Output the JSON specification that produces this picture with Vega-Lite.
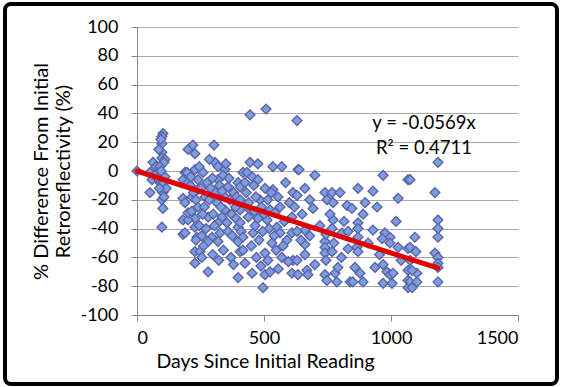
{
  "$schema": "https://vega.github.io/schema/vega-lite/v6.json",
  "width": 381,
  "height": 288,
  "autosize": {"type": "none"},
  "padding": {"left": 137, "top": 27, "right": 43, "bottom": 72},
  "background": "white",
  "config": {
    "font": "Lato",
    "view": {"stroke": null},
    "axis": {
      "labelFont": "Lato",
      "titleFont": "Lato",
      "labelFontSize": 18,
      "titleFontSize": 19.5,
      "titleFontWeight": "normal",
      "labelColor": "#000000",
      "titleColor": "#000000",
      "domainColor": "#868686",
      "tickColor": "#868686",
      "tickSize": 6,
      "gridColor": "#a8a8a8",
      "labelOverlap": false,
      "labelExpr": "'' + datum.value"
    }
  },
  "datasets": {
    "readings": [
      {"d": 0, "v": 0}, {"d": 51, "v": -1}, {"d": 59, "v": -6}, {"d": 51, "v": -15}, {"d": 63, "v": 6},
      {"d": 102, "v": 26}, {"d": 98, "v": 24}, {"d": 98, "v": 19}, {"d": 98, "v": 13}, {"d": 98, "v": 9},
      {"d": 110, "v": 8}, {"d": 106, "v": 6}, {"d": 75, "v": 3}, {"d": 90, "v": 3}, {"d": 78, "v": -1},
      {"d": 90, "v": -1}, {"d": 102, "v": -3}, {"d": 90, "v": -8}, {"d": 102, "v": -9}, {"d": 102, "v": -15},
      {"d": 98, "v": -20}, {"d": 102, "v": -26}, {"d": 98, "v": -39}, {"d": 94, "v": 22}, {"d": 86, "v": 15},
      {"d": 110, "v": -4}, {"d": 115, "v": -12}, {"d": 70, "v": -3}, {"d": 82, "v": -5}, {"d": 95, "v": 0},
      {"d": 106, "v": -18}, {"d": 88, "v": -12},
      {"d": 181, "v": -6}, {"d": 189, "v": -1}, {"d": 181, "v": -19}, {"d": 181, "v": -34}, {"d": 181, "v": -44},
      {"d": 201, "v": 15}, {"d": 220, "v": 18}, {"d": 228, "v": 12}, {"d": 303, "v": 18}, {"d": 197, "v": -1},
      {"d": 228, "v": 1}, {"d": 260, "v": -1}, {"d": 307, "v": 6}, {"d": 319, "v": 3}, {"d": 346, "v": 1},
      {"d": 201, "v": -8}, {"d": 240, "v": -6}, {"d": 276, "v": -8}, {"d": 319, "v": -6}, {"d": 339, "v": -3},
      {"d": 398, "v": -8}, {"d": 417, "v": -1}, {"d": 217, "v": -18}, {"d": 240, "v": -25}, {"d": 280, "v": -32},
      {"d": 315, "v": -22}, {"d": 346, "v": -27}, {"d": 228, "v": -33}, {"d": 201, "v": -34}, {"d": 228, "v": -39},
      {"d": 319, "v": -36}, {"d": 354, "v": -36}, {"d": 406, "v": -27}, {"d": 398, "v": -39}, {"d": 236, "v": -46},
      {"d": 295, "v": -46}, {"d": 327, "v": -43}, {"d": 358, "v": -42}, {"d": 280, "v": -49}, {"d": 319, "v": -49},
      {"d": 398, "v": -49}, {"d": 228, "v": -56}, {"d": 248, "v": -56}, {"d": 228, "v": -64}, {"d": 280, "v": -70},
      {"d": 406, "v": -56}, {"d": 398, "v": -74}, {"d": 201, "v": -29}, {"d": 268, "v": -18}, {"d": 346, "v": -18},
      {"d": 240, "v": -13}, {"d": 358, "v": -11}, {"d": 406, "v": -11}, {"d": 189, "v": -22}, {"d": 189, "v": -43},
      {"d": 210, "v": -10}, {"d": 222, "v": -15}, {"d": 232, "v": -20}, {"d": 252, "v": -12}, {"d": 265, "v": -25},
      {"d": 290, "v": -12}, {"d": 300, "v": -30}, {"d": 310, "v": -15}, {"d": 325, "v": -10}, {"d": 335, "v": -32},
      {"d": 365, "v": -20}, {"d": 372, "v": -30}, {"d": 380, "v": -15}, {"d": 388, "v": -25}, {"d": 215, "v": -28},
      {"d": 245, "v": -38}, {"d": 258, "v": -30}, {"d": 272, "v": -40}, {"d": 285, "v": -20}, {"d": 297, "v": -5},
      {"d": 330, "v": -25}, {"d": 362, "v": -5}, {"d": 375, "v": -45}, {"d": 390, "v": -33}, {"d": 212, "v": -4},
      {"d": 255, "v": -45}, {"d": 305, "v": -38}, {"d": 340, "v": -55}, {"d": 370, "v": -60}, {"d": 255, "v": -60},
      {"d": 245, "v": 3}, {"d": 285, "v": 8}, {"d": 335, "v": -14}, {"d": 350, "v": 5}, {"d": 392, "v": -18},
      {"d": 410, "v": -42}, {"d": 380, "v": -65}, {"d": 262, "v": -52}, {"d": 232, "v": -48}, {"d": 298, "v": -58},
      {"d": 322, "v": -62},
      {"d": 445, "v": 39}, {"d": 508, "v": 43}, {"d": 630, "v": 35}, {"d": 445, "v": 6}, {"d": 476, "v": 5},
      {"d": 535, "v": 3}, {"d": 570, "v": 3}, {"d": 433, "v": -1}, {"d": 453, "v": -4}, {"d": 476, "v": -6},
      {"d": 504, "v": -12}, {"d": 535, "v": -13}, {"d": 614, "v": -15}, {"d": 563, "v": -25}, {"d": 445, "v": -27},
      {"d": 476, "v": -33}, {"d": 512, "v": -34}, {"d": 551, "v": -39}, {"d": 406, "v": -36}, {"d": 417, "v": -55},
      {"d": 504, "v": -57}, {"d": 531, "v": -50}, {"d": 570, "v": -60}, {"d": 614, "v": -62}, {"d": 425, "v": -64},
      {"d": 453, "v": -71}, {"d": 504, "v": -72}, {"d": 524, "v": -70}, {"d": 610, "v": -71}, {"d": 496, "v": -81},
      {"d": 610, "v": -43}, {"d": 610, "v": -32}, {"d": 563, "v": -43}, {"d": 457, "v": -43}, {"d": 417, "v": -46},
      {"d": 484, "v": -20}, {"d": 524, "v": -27}, {"d": 543, "v": -29}, {"d": 406, "v": -20}, {"d": 634, "v": 1},
      {"d": 430, "v": -15}, {"d": 440, "v": -22}, {"d": 460, "v": -10}, {"d": 468, "v": -18}, {"d": 490, "v": -25},
      {"d": 500, "v": -30}, {"d": 515, "v": -20}, {"d": 520, "v": -40}, {"d": 540, "v": -45}, {"d": 555, "v": -18},
      {"d": 580, "v": -35}, {"d": 590, "v": -48}, {"d": 600, "v": -22}, {"d": 465, "v": -38}, {"d": 480, "v": -48},
      {"d": 495, "v": -42}, {"d": 528, "v": -15}, {"d": 548, "v": -55}, {"d": 575, "v": -52}, {"d": 620, "v": -25},
      {"d": 450, "v": -52}, {"d": 470, "v": -60}, {"d": 488, "v": -66}, {"d": 515, "v": -62}, {"d": 556, "v": -68},
      {"d": 585, "v": -8}, {"d": 596, "v": -63}, {"d": 438, "v": -32}, {"d": 425, "v": -8}, {"d": 462, "v": -28},
      {"d": 638, "v": 1}, {"d": 661, "v": -12}, {"d": 630, "v": -17}, {"d": 693, "v": -26}, {"d": 740, "v": -15},
      {"d": 768, "v": -15}, {"d": 799, "v": -15}, {"d": 748, "v": -20}, {"d": 772, "v": -22}, {"d": 827, "v": -24},
      {"d": 846, "v": -26}, {"d": 772, "v": -34}, {"d": 768, "v": -40}, {"d": 661, "v": -41}, {"d": 630, "v": -42},
      {"d": 740, "v": -49}, {"d": 740, "v": -53}, {"d": 740, "v": -57}, {"d": 768, "v": -56}, {"d": 661, "v": -51},
      {"d": 661, "v": -58}, {"d": 831, "v": -54}, {"d": 630, "v": -62}, {"d": 669, "v": -69}, {"d": 634, "v": -72},
      {"d": 673, "v": -72}, {"d": 740, "v": -72}, {"d": 780, "v": -71}, {"d": 791, "v": -67}, {"d": 787, "v": -77},
      {"d": 748, "v": -76}, {"d": 839, "v": -77}, {"d": 807, "v": -43}, {"d": 831, "v": -42},
      {"d": 650, "v": -30}, {"d": 680, "v": -45}, {"d": 700, "v": -3}, {"d": 720, "v": -38}, {"d": 744, "v": -62},
      {"d": 760, "v": -30}, {"d": 775, "v": -50}, {"d": 805, "v": -60}, {"d": 815, "v": -35}, {"d": 700, "v": -65},
      {"d": 645, "v": -48}, {"d": 744, "v": -44}, {"d": 680, "v": -20},
      {"d": 969, "v": -3}, {"d": 870, "v": -12}, {"d": 929, "v": -14}, {"d": 1028, "v": -19}, {"d": 1067, "v": -6},
      {"d": 898, "v": -22}, {"d": 945, "v": -25}, {"d": 870, "v": -36}, {"d": 870, "v": -40}, {"d": 929, "v": -41},
      {"d": 870, "v": -46}, {"d": 976, "v": -43}, {"d": 996, "v": -46}, {"d": 965, "v": -47}, {"d": 996, "v": -50},
      {"d": 1028, "v": -53}, {"d": 866, "v": -53}, {"d": 870, "v": -56}, {"d": 1067, "v": -54}, {"d": 858, "v": -67},
      {"d": 878, "v": -71}, {"d": 937, "v": -67}, {"d": 969, "v": -65}, {"d": 984, "v": -70}, {"d": 996, "v": -72},
      {"d": 1008, "v": -71}, {"d": 850, "v": -77}, {"d": 890, "v": -77}, {"d": 969, "v": -78}, {"d": 1004, "v": -78},
      {"d": 1067, "v": -69}, {"d": 1067, "v": -76}, {"d": 1067, "v": -81},
      {"d": 910, "v": -50}, {"d": 955, "v": -58}, {"d": 1040, "v": -62}, {"d": 1020, "v": -35}, {"d": 890, "v": -30},
      {"d": 1185, "v": 6}, {"d": 1075, "v": -6}, {"d": 1173, "v": -15}, {"d": 1185, "v": -34}, {"d": 1185, "v": -40},
      {"d": 1185, "v": -46}, {"d": 1094, "v": -46}, {"d": 1075, "v": -53}, {"d": 1098, "v": -56}, {"d": 1173, "v": -57},
      {"d": 1185, "v": -60}, {"d": 1185, "v": -64}, {"d": 1075, "v": -62}, {"d": 1102, "v": -71}, {"d": 1083, "v": -69},
      {"d": 1075, "v": -77}, {"d": 1102, "v": -77}, {"d": 1083, "v": -81}, {"d": 1185, "v": -77}, {"d": 1185, "v": -67}
    ],
    "trend": [
      {"d": 0, "v": 0},
      {"d": 1185, "v": -67.43}
    ],
    "equation": [
      {"d": 1130, "v": 33, "label": "y = -0.0569x"},
      {"d": 1130, "v": 16, "label": "R² = 0.4711"}
    ]
  },
  "layer": [
    {
      "data": {"name": "readings"},
      "mark": {
        "type": "point",
        "shape": "diamond",
        "filled": true,
        "size": 95,
        "fill": "#7b9de2",
        "stroke": "#5d64a6",
        "strokeWidth": 1.4,
        "opacity": 1
      },
      "encoding": {
        "x": {
          "field": "d",
          "type": "quantitative",
          "scale": {"domain": [0, 1500], "nice": false, "zero": false},
          "axis": {
            "values": [0, 500, 1000, 1500],
            "tickCount": 4,
            "grid": false,
            "title": "Days Since Initial Reading",
            "titleX": 128,
            "titleAlign": "center",
            "labelPadding": 8,
            "titlePadding": 5,
            "labelOverlap": false
          }
        },
        "y": {
          "field": "v",
          "type": "quantitative",
          "scale": {"domain": [-100, 100], "nice": false},
          "axis": {
            "values": [-100, -80, -60, -40, -20, 0, 20, 40, 60, 80, 100],
            "tickCount": 11,
            "grid": true,
            "title": ["% Difference From Initial", "Retroreflectivity (%)"],
            "titleFontSize": 20,
            "titleLineHeight": 22,
            "labelPadding": 13,
            "titlePadding": 6,
            "labelOverlap": false,
            "labelBound": false
          }
        }
      }
    },
    {
      "data": {"name": "trend"},
      "mark": {"type": "line", "color": "#e00000", "strokeWidth": 5, "strokeCap": "round"},
      "encoding": {
        "x": {"field": "d", "type": "quantitative"},
        "y": {"field": "v", "type": "quantitative"}
      }
    },
    {
      "data": {"name": "equation"},
      "mark": {"type": "text", "fontSize": 18.5, "font": "Lato", "color": "#000000", "align": "center", "baseline": "middle"},
      "encoding": {
        "x": {"field": "d", "type": "quantitative"},
        "y": {"field": "v", "type": "quantitative"},
        "text": {"field": "label"}
      }
    },
    {
      "data": {"values": [{"frame": "outline"}]},
      "mark": {"type": "rect", "fill": null, "stroke": "#000000", "strokeWidth": 4, "cornerRadius": 6, "clip": false},
      "encoding": {
        "x": {"value": -132},
        "x2": {"value": 420},
        "y": {"value": -23},
        "y2": {"value": 357}
      }
    }
  ]
}
